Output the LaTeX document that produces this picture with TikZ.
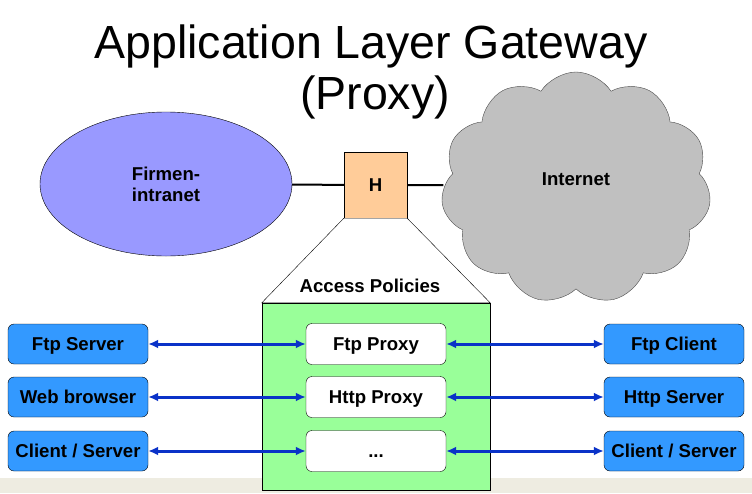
\documentclass[tikz,border=0pt]{standalone}
\usepackage{fontspec}
\setmainfont{Liberation Sans}
\usetikzlibrary{shapes.geometric,shapes.symbols,arrows.meta,backgrounds}

\definecolor{firmblue}{RGB}{153,153,255}
\definecolor{hpeach}{RGB}{255,204,153}
\definecolor{netgray}{RGB}{192,192,192}
\definecolor{polgreen}{RGB}{153,255,153}
\definecolor{boxblue}{RGB}{51,153,255}
\definecolor{arrblue}{RGB}{10,50,200}
\definecolor{stripbeige}{RGB}{238,236,225}

\begin{document}
\begin{tikzpicture}[x=1pt,y=-1pt,
		lbl/.style={font=\fontsize{18.6}{21}\selectfont\bfseries},
		endbox/.style={lbl, draw, rounded corners=6pt, fill=boxblue, minimum width=140pt, minimum height=40pt, inner sep=0pt, text height=13.3pt, text depth=0pt},
		proxybox/.style={lbl, draw, rounded corners=6pt, fill=white, minimum width=140pt, minimum height=41pt, inner sep=0pt, text height=13.3pt, text depth=0pt},
		link/.style={{Latex[length=10pt,width=9pt]}-{Latex[length=10pt,width=9pt]}, arrblue, line width=3pt}]
				\useasboundingbox (0,0) rectangle (752,493);
				
				% title
				\node[anchor=base, font=\fontsize{46.5}{51}\selectfont] (title) at (371,58) {Application Layer Gateway};
				\node[anchor=base, font=\fontsize{46.5}{51}\selectfont] (subtitle) at (375,109) {(Proxy)};
				
				% networks and gateway
				\node[ellipse, draw, fill=firmblue, minimum width=252pt, minimum height=144pt, align=center, lbl] (firm) at (166,184) {Firmen-\\intranet};
				\node[draw, fill=hpeach, minimum width=63pt, minimum height=66pt, lbl] (H) at (375.5,185) {H};
				\node[cloud, draw=black!70, fill=netgray, cloud puffs=11, cloud puff arc=115, aspect=1.17, minimum width=270pt, minimum height=232pt, inner sep=0pt,
					label={[lbl, yshift=9pt]center:Internet}] (inet) at (576,188) {};
				\begin{scope}[on background layer]
					\fill[white] (0,0) rectangle (752,493);
					\fill[stripbeige] (0,478) rectangle (752,493);
					\draw[line width=2pt] (firm.center) -- (H.center) -- (inet.west |- H.center);
				\end{scope}
				
				% access policies
				\node[draw, fill=polgreen, minimum width=228pt, minimum height=187pt] (pol) at (376,396.5) {};
				\draw[fill=white] (H.south west) -- (H.south east) -- (pol.north east) -- (pol.north west) -- cycle;
				\node[lbl] (acc) at (370,286) {Access Policies};
				
				% proxies
				\node[proxybox] (ftpP) at (376,344) {Ftp Proxy};
				\node[proxybox] (httpP) at (376,397) {Http Proxy};
				\node[proxybox] (otherP) at (376,451) {...};
				
				% inside
				\node[endbox] (ftpS) at (78,344) {Ftp Server};
				\node[endbox] (web) at (78,397) {Web browser};
				\node[endbox] (csL) at (78,451) {Client / Server};
				
				% outside
				\node[endbox] (ftpC) at (674,344) {Ftp Client};
				\node[endbox] (httpS) at (674,397) {Http Server};
				\node[endbox] (csR) at (674,451) {Client / Server};
				
				\draw[link] (ftpS) -- (ftpP);
				\draw[link] (web) -- (httpP);
				\draw[link] (csL) -- (otherP);
				\draw[link] (ftpP) -- (ftpC);
				\draw[link] (httpP) -- (httpS);
				\draw[link] (otherP) -- (csR);
			\end{tikzpicture}
\end{document}
